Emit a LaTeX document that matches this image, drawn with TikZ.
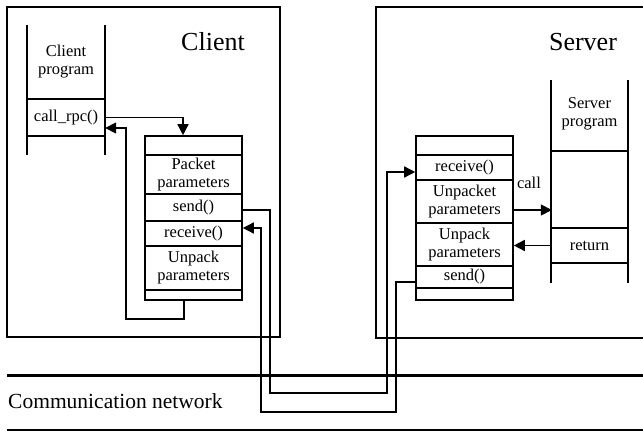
\documentclass[tikz,border=0pt]{standalone}
\usepackage{fontspec}
\setmainfont{Liberation Serif}
\usetikzlibrary{arrows.meta,calc}
\begin{document}
\begin{tikzpicture}[x=1pt,y=-1pt,
  box/.style={draw, line width=1.8pt, inner sep=0pt},
  row/.style={draw, line width=1.6pt, minimum width=97pt, inner sep=0pt, align=center, font=\fontsize{16.5}{18}\selectfont},
  txt/.style={inner sep=0pt, align=center, font=\fontsize{16.5}{18}\selectfont},
  big/.style={inner sep=0pt, font=\fontsize{26}{28}\selectfont},
  life/.style={line width=1.7pt},
  wire/.style={line width=1.5pt},
  arr/.style={wire, -{Triangle[length=11pt,width=11pt]}},
  net/.style={line width=3pt},
]
\useasboundingbox (0,0) rectangle (643,431);
\clip (0,0) rectangle (643,431);

% outer boxes
\node[box, minimum width=273pt, minimum height=330pt] (client) at (143.5,172) {};
\node[big] (clientlbl) at (213,42) {Client};
\node[box, minimum width=304pt, minimum height=331pt] (server) at (528,172.5) {};
\node[big] (serverlbl) at (583,42) {Server};

% client program lifeline
\draw[life] (27,25) -- (27,155);
\draw[life] (105,25) -- (105,155);
\draw[life] (27,99) -- (105,99);
\draw[life] (27,136) -- (105,136);
\node[txt] (cprog) at (66,62) {Client\\program};
\node[txt, minimum width=78pt, minimum height=37pt] (callrpc) at (66,117.5) {call\_rpc()};

% client stub
\node[row, minimum height=19pt] (c0) at (193.5,145.5) {};
\node[row, minimum height=39pt] (cpack) at (193.5,174.5) {Packet\\parameters};
\node[row, minimum height=27pt] (csend) at (193.5,207.5) {send()};
\node[row, minimum height=25pt] (crecv) at (193.5,233.5) {receive()};
\node[row, minimum height=44pt] (cunpk) at (193.5,268) {Unpack\\parameters};
\node[row, minimum height=10pt] (cbot) at (193.5,295) {};

% server stub
\node[row, minimum height=19pt] (s0) at (464.5,145.5) {};
\node[row, minimum height=25pt] (srecv) at (464.5,167.5) {receive()};
\node[row, minimum height=43pt] (sunpkt) at (464.5,201.5) {Unpacket\\parameters};
\node[row, minimum height=43pt] (sunpk) at (464.5,244.5) {Unpack\\parameters};
\node[row, minimum height=22pt] (ssend) at (464.5,277) {send()};
\node[row, minimum height=12pt] (sbot) at (464.5,294) {};

% server program lifeline
\draw[life] (551,80) -- (551,283);
\draw[life] (628,80) -- (628,283);
\draw[life] (551,151) -- (628,151);
\draw[life] (551,228) -- (628,228);
\draw[life] (551,263) -- (628,263);
\node[txt] (sprog) at (589.5,114) {Server\\program};
\node[txt, minimum width=77pt, minimum height=35pt] (ret) at (589.5,245.5) {return};
\node[txt] (calllbl) at (529,183) {call};

% network
\draw[net] (7,375) -- (650,375);
\draw[line width=2.2pt] (7,430) -- (650,430);
\node[inner sep=0pt, anchor=west, font=\fontsize{21.5}{24}\selectfont] (netlbl) at (8,401) {Communication network};

% connectors
\draw[arr] (callrpc.east) -| ([xshift=-10.5pt]c0.north);
\draw[arr] ([xshift=-9.5pt]cbot.south) -- ++(0,18) -- ++(-58,0) |- ($(callrpc.east)+(0,10.5)$);
\draw[arr] ($(csend.east)+(0,2.5)$) -- ++(27,0) -- ++(0,183) -- ++(117,0) |- ($(srecv.west)+(0,4.5)$);
\draw[arr] ($(ssend.west)+(0,5)$) -- ++(-19,0) -- ++(0,130) -- ++(-135,0) |- ($(crecv.east)+(0,-5.5)$);
\draw[arr] ($(sunpkt.east)+(0,8.5)$) -- ($(sunpkt.east)+(38,8.5)$);
\draw[arr] (ret.west) -- (ret.west -| sunpk.east);
\end{tikzpicture}
\end{document}
